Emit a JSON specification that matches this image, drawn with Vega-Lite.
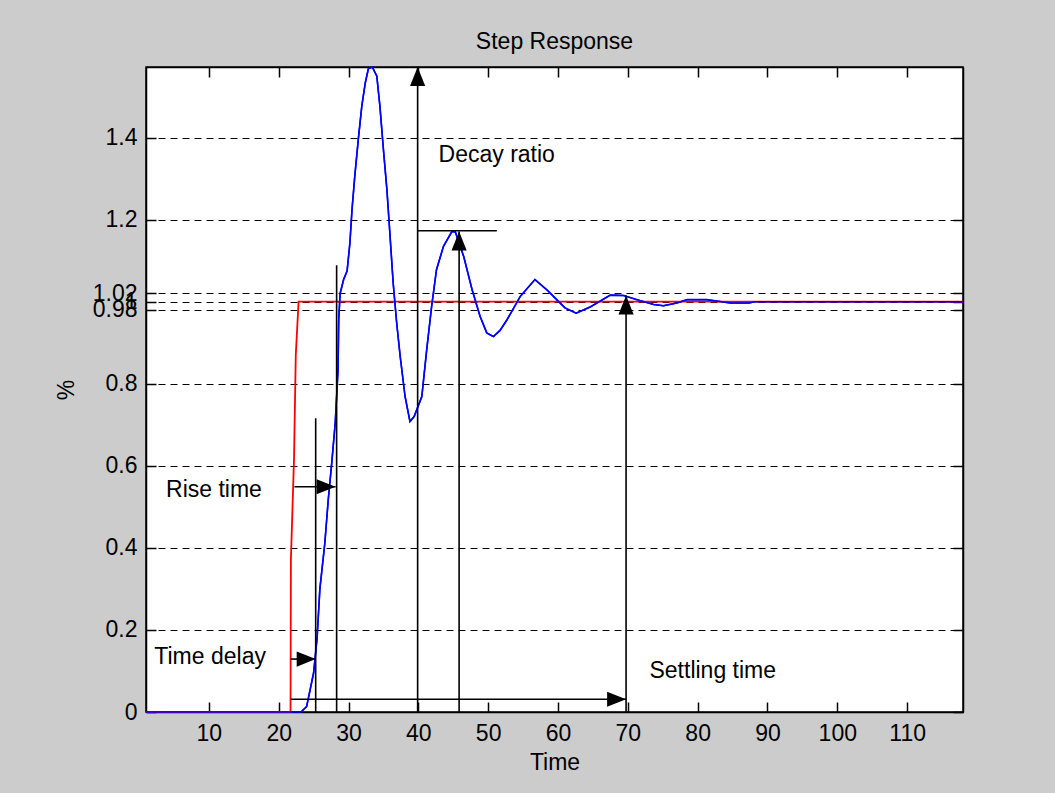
{
  "$schema": "https://vega.github.io/schema/vega-lite/v6.json",
  "width": 817,
  "height": 645,
  "autosize": {"type": "none"},
  "padding": {"left": 146, "top": 67, "right": 92, "bottom": 81},
  "background": "#cccccc",
  "view": {"fill": "white", "stroke": "black", "strokeWidth": 1.5},
  "title": {"text": "Step Response", "font": "Liberation Sans", "fontSize": 23, "fontWeight": "normal", "color": "black", "anchor": "middle", "offset": 10},
  "config": {
    "axis": {"labelFont": "Liberation Sans", "labelFontSize": 23, "labelColor": "black", "titleFont": "Liberation Sans", "titleFontSize": 23, "titleFontWeight": "normal", "titleColor": "black", "tickColor": "black", "domainColor": "black", "domainWidth": 1.5, "tickWidth": 1.5, "labelOverlap": false, "labelFlush": false, "labelBound": false}
  },
  "datasets": {
    "blue": [
      {"t": 1, "v": 0}, {"t": 23.2, "v": 0}, {"t": 24.0, "v": 0.013}, {"t": 25.0, "v": 0.095}, {"t": 25.5, "v": 0.18},
      {"t": 25.9, "v": 0.30}, {"t": 26.6, "v": 0.41}, {"t": 27.1, "v": 0.517}, {"t": 27.6, "v": 0.607}, {"t": 28.1, "v": 0.705},
      {"t": 28.5, "v": 0.834}, {"t": 28.6, "v": 0.956}, {"t": 28.8, "v": 1.02}, {"t": 29.3, "v": 1.054}, {"t": 29.8, "v": 1.075},
      {"t": 30.2, "v": 1.143}, {"t": 30.5, "v": 1.224}, {"t": 30.9, "v": 1.306}, {"t": 31.4, "v": 1.395}, {"t": 31.9, "v": 1.476},
      {"t": 32.4, "v": 1.533}, {"t": 32.85, "v": 1.568}, {"t": 33.4, "v": 1.572}, {"t": 34.05, "v": 1.55}, {"t": 34.5, "v": 1.476},
      {"t": 35.0, "v": 1.371}, {"t": 35.5, "v": 1.273}, {"t": 35.95, "v": 1.16}, {"t": 36.4, "v": 1.045}, {"t": 36.9, "v": 0.948},
      {"t": 37.4, "v": 0.867}, {"t": 38.1, "v": 0.769}, {"t": 38.8, "v": 0.708}, {"t": 39.4, "v": 0.72}, {"t": 40.5, "v": 0.769},
      {"t": 41.2, "v": 0.883}, {"t": 41.9, "v": 0.988}, {"t": 42.6, "v": 1.078}, {"t": 43.6, "v": 1.135}, {"t": 44.8, "v": 1.171},
      {"t": 45.3, "v": 1.17}, {"t": 46.5, "v": 1.11}, {"t": 47.7, "v": 1.029}, {"t": 48.85, "v": 0.964}, {"t": 49.8, "v": 0.924},
      {"t": 50.75, "v": 0.915}, {"t": 51.7, "v": 0.93}, {"t": 52.7, "v": 0.956}, {"t": 54.6, "v": 1.013}, {"t": 56.7, "v": 1.054},
      {"t": 58.4, "v": 1.029}, {"t": 59.35, "v": 1.013}, {"t": 61.0, "v": 0.985}, {"t": 62.6, "v": 0.972}, {"t": 64.6, "v": 0.987},
      {"t": 67.5, "v": 1.016}, {"t": 69.4, "v": 1.015}, {"t": 71.3, "v": 1.005}, {"t": 73.7, "v": 0.993}, {"t": 75.1, "v": 0.99},
      {"t": 77.0, "v": 0.997}, {"t": 78.5, "v": 1.005}, {"t": 81.3, "v": 1.005}, {"t": 84.7, "v": 0.997}, {"t": 87.3, "v": 0.997},
      {"t": 88.2, "v": 1.0}, {"t": 118, "v": 1.0}
    ],
    "red": [
      {"t": 1, "v": 0}, {"t": 21.7, "v": 0}, {"t": 21.75, "v": 0.37}, {"t": 22.2, "v": 0.62}, {"t": 22.45, "v": 0.87}, {"t": 22.85, "v": 1.0}, {"t": 118, "v": 1.0}
    ],
    "segs": [
      {"x1": 21.73, "y1": 0.129, "x2": 25.3, "y2": 0.129},
      {"x1": 25.3, "y1": 0, "x2": 25.3, "y2": 0.716},
      {"x1": 22.25, "y1": 0.549, "x2": 28.15, "y2": 0.549},
      {"x1": 28.3, "y1": 0, "x2": 28.3, "y2": 1.089},
      {"x1": 39.9, "y1": 0, "x2": 39.9, "y2": 1.572},
      {"x1": 45.84, "y1": 0, "x2": 45.84, "y2": 1.171},
      {"x1": 39.9, "y1": 1.173, "x2": 51.24, "y2": 1.173},
      {"x1": 21.73, "y1": 0.031, "x2": 69.75, "y2": 0.031},
      {"x1": 69.75, "y1": 0, "x2": 69.75, "y2": 1.015}
    ],
    "heads": [
      {"x": 25.3, "y": 0.129, "dir": "right"},
      {"x": 28.15, "y": 0.549, "dir": "right"},
      {"x": 69.75, "y": 0.031, "dir": "right"},
      {"x": 39.9, "y": 1.572, "dir": "up"},
      {"x": 45.84, "y": 1.171, "dir": "up"},
      {"x": 69.75, "y": 1.015, "dir": "up"}
    ],
    "labels": [
      {"text": "Time delay", "x": 2.19, "y": 0.117},
      {"text": "Rise time", "x": 3.87, "y": 0.525},
      {"text": "Decay ratio", "x": 42.9, "y": 1.3415},
      {"text": "Settling time", "x": 73.1, "y": 0.082}
    ]
  },
  "resolve": {"axis": {"x": "independent", "y": "independent"}},
  "layer": [
    {
      "data": {"name": "blue"},
      "mark": {"type": "line", "color": "#0000ff", "strokeWidth": 1.5, "clip": true},
      "encoding": {
        "x": {"field": "t", "type": "quantitative", "scale": {"domain": [1, 118], "nice": false, "zero": false}, "sort": null,
              "axis": {"title": "Time", "orient": "bottom", "values": [10, 20, 30, 40, 50, 60, 70, 80, 90, 100, 110], "format": "d", "tickSize": -10, "labelPadding": 20, "titlePadding": 6, "grid": false}},
        "y": {"field": "v", "type": "quantitative", "scale": {"domain": [0, 1.572], "nice": false},
              "axis": {"title": "%", "orient": "left", "values": [0, 0.2, 0.4, 0.6, 0.8, 0.98, 1, 1.02, 1.2, 1.4], "format": ".2~f", "tickSize": -10, "labelPadding": 19, "titlePadding": 14, "grid": true, "gridColor": "black", "gridDash": [7, 5], "gridWidth": 1.2, "gridOpacity": 1}},
        "order": {"field": "t", "type": "quantitative"}
      }
    },
    {
      "data": {"name": "red"},
      "mark": {"type": "line", "color": "#ff0000", "strokeWidth": 1.8},
      "encoding": {
        "x": {"field": "t", "type": "quantitative",
              "axis": {"title": null, "orient": "top", "values": [10, 20, 30, 40, 50, 60, 70, 80, 90, 100, 110], "labels": false, "tickSize": -10, "grid": false}},
        "y": {"field": "v", "type": "quantitative",
              "axis": {"title": null, "orient": "right", "values": [0, 0.2, 0.4, 0.6, 0.8, 0.98, 1, 1.02, 1.2, 1.4], "labels": false, "tickSize": -10, "grid": false}},
        "order": {"field": "t", "type": "quantitative"}
      }
    },
    {
      "data": {"name": "blue"},
      "mark": {"type": "line", "color": "#0000ff", "strokeWidth": 1.6},
      "encoding": {
        "x": {"field": "t", "type": "quantitative", "axis": null},
        "y": {"field": "v", "type": "quantitative", "axis": null},
        "order": {"field": "t", "type": "quantitative"}
      }
    },
    {
      "data": {"name": "segs"},
      "mark": {"type": "rule", "color": "black", "strokeWidth": 1.6},
      "encoding": {
        "x": {"field": "x1", "type": "quantitative", "axis": null},
        "x2": {"field": "x2"},
        "y": {"field": "y1", "type": "quantitative", "axis": null},
        "y2": {"field": "y2"}
      }
    },
    {
      "data": {"name": "heads"},
      "mark": {"type": "point", "filled": true, "color": "black", "opacity": 1, "size": 360, "strokeWidth": 0},
      "encoding": {
        "x": {"field": "x", "type": "quantitative", "axis": null},
        "y": {"field": "y", "type": "quantitative", "axis": null},
        "shape": {"field": "dir", "type": "nominal", "legend": null,
                  "scale": {"domain": ["right", "up"], "range": ["M-2,-0.8L0,0L-2,0.8Z", "M-0.8,2L0,0L0.8,2Z"]}}
      }
    },
    {
      "data": {"name": "labels"},
      "mark": {"type": "text", "align": "left", "baseline": "alphabetic", "font": "Liberation Sans", "fontSize": 23, "color": "black"},
      "encoding": {
        "x": {"field": "x", "type": "quantitative", "axis": null},
        "y": {"field": "y", "type": "quantitative", "axis": null},
        "text": {"field": "text"}
      }
    }
  ]
}
